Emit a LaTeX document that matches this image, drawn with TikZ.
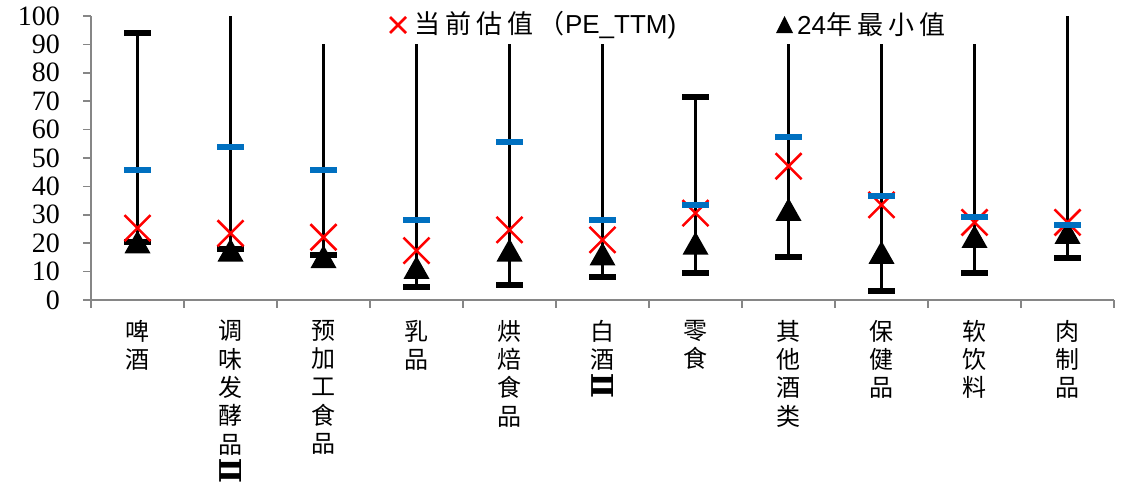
\documentclass[tikz,border=0pt]{standalone}
\usepackage{fontspec}
\usepackage{graphicx}
\setmainfont{Liberation Serif}
\newfontfamily\cjk{Noto Sans CJK SC}
\newfontfamily\cjkls[LetterSpace=20]{Noto Sans CJK SC}
\newfontfamily\arialf{Liberation Sans}
\newfontfamily\romf{DejaVu Serif}
\definecolor{barblue}{HTML}{0070C0}
\definecolor{axisgray}{HTML}{868686}
\definecolor{markred}{HTML}{FF0000}
\newcommand{\romtwo}{\rotatebox[origin=c]{90}{\romf\bfseries\fontsize{30}{30}\selectfont Ⅱ}}
\begin{document}
\begin{tikzpicture}[x=1pt,y=-1pt,
  axisline/.style={draw=axisgray,line width=1.5pt},
  whisker/.style={draw=black,line width=3pt},
  catlabel/.style={anchor=north,align=center,inner sep=0pt,font=\cjk\fontsize{24}{28.3}\selectfont},
  ticklabel/.style={anchor=east,inner sep=0pt,font=\fontsize{28}{30}\selectfont},
  curmark/.style={draw=markred,line width=2.5pt},
  legtext/.style={anchor=west,inner sep=0pt,font=\fontsize{26}{28}\selectfont}]
\useasboundingbox (0,0) rectangle (1129,490);
% axes
\draw[axisline] (91,16) -- (91,300);
\draw[axisline] (83,300) -- (1114,300);
\foreach \v in {0,10,...,100}{
  \draw[axisline] (83,{300-2.84*\v}) -- (91,{300-2.84*\v});
  \node[ticklabel] (t\v) at (60,{300-2.84*\v}) {\v};
}
\foreach \k in {0,...,11}{
  \draw[axisline] ({91+93*\k},300) -- ({91+93*\k},308);
}
% data
\foreach \i/\top/\bl/\cu/\mi/\lo/\lab in {
  1/94/45.6/25.3/20.5/20.6/{啤\\酒},
  2/100/53.8/23.5/17.6/17.9/{调\\味\\发\\酵\\品\\\romtwo},
  3/100/45.9/22.1/15.3/15.9/{预\\加\\工\\食\\品},
  4/100/28.0/17.4/11.5/4.5/{乳\\品},
  5/100/55.5/24.7/17.6/5.3/{烘\\焙\\食\\品},
  6/100/28.0/21.2/16.2/8.0/{白\\酒\\\romtwo},
  7/71.4/33.6/30.6/20.0/9.4/{零\\食},
  8/100/57.3/47.1/31.9/15.3/{其\\他\\酒\\类},
  9/100/36.5/33.5/16.8/3.3/{保\\健\\品},
  10/100/29.1/27.3/22.4/9.4/{软\\饮\\料},
  11/100/26.5/27.3/23.8/14.9/{肉\\制\\品}}{
  \pgfmathsetmacro\xc{91+93*(\i-0.5)}
  \pgfmathsetmacro\yt{300-2.84*\top}
  \pgfmathsetmacro\yb{300-2.84*\bl}
  \pgfmathsetmacro\yc{300-2.84*\cu}
  \pgfmathsetmacro\ym{300-2.84*\mi}
  \pgfmathsetmacro\yl{300-2.84*\lo}
  \draw[whisker] (\xc,\yt) -- (\xc,\yl);
  \ifdim\top pt<99pt
    \fill[black] (\xc-13.5,\yt-3) rectangle (\xc+13.5,\yt+3);
  \fi
  \fill[black] (\xc-13.5,\yl-3) rectangle (\xc+13.5,\yl+3);
  \fill[black] (\xc-13,\ym+11.5) -- (\xc+13,\ym+11.5) -- (\xc,\ym-11.5) -- cycle;
  \draw[curmark] (\xc-13,\yc-13) -- (\xc+13,\yc+13) (\xc-13,\yc+13) -- (\xc+13,\yc-13);
  \fill[barblue] (\xc-13.5,\yb-3) rectangle (\xc+13.5,\yb+3);
  \node[catlabel] (c\i) at (\xc,320) {\lab};
}
% legend
\fill[white] (290,0) rectangle (1010,44);
\draw[curmark] (390,17) -- (406,33) (390,33) -- (406,17);
\node[legtext] (leg1) at (414,25) {\cjkls 当前估值（\arialf PE\_TTM)};
\fill[black] (776,33) -- (793,33) -- (784.5,16) -- cycle;
\node[legtext] (leg2) at (797,25) {\arialf 24\cjkls 年最小值};
\end{tikzpicture}
\end{document}
